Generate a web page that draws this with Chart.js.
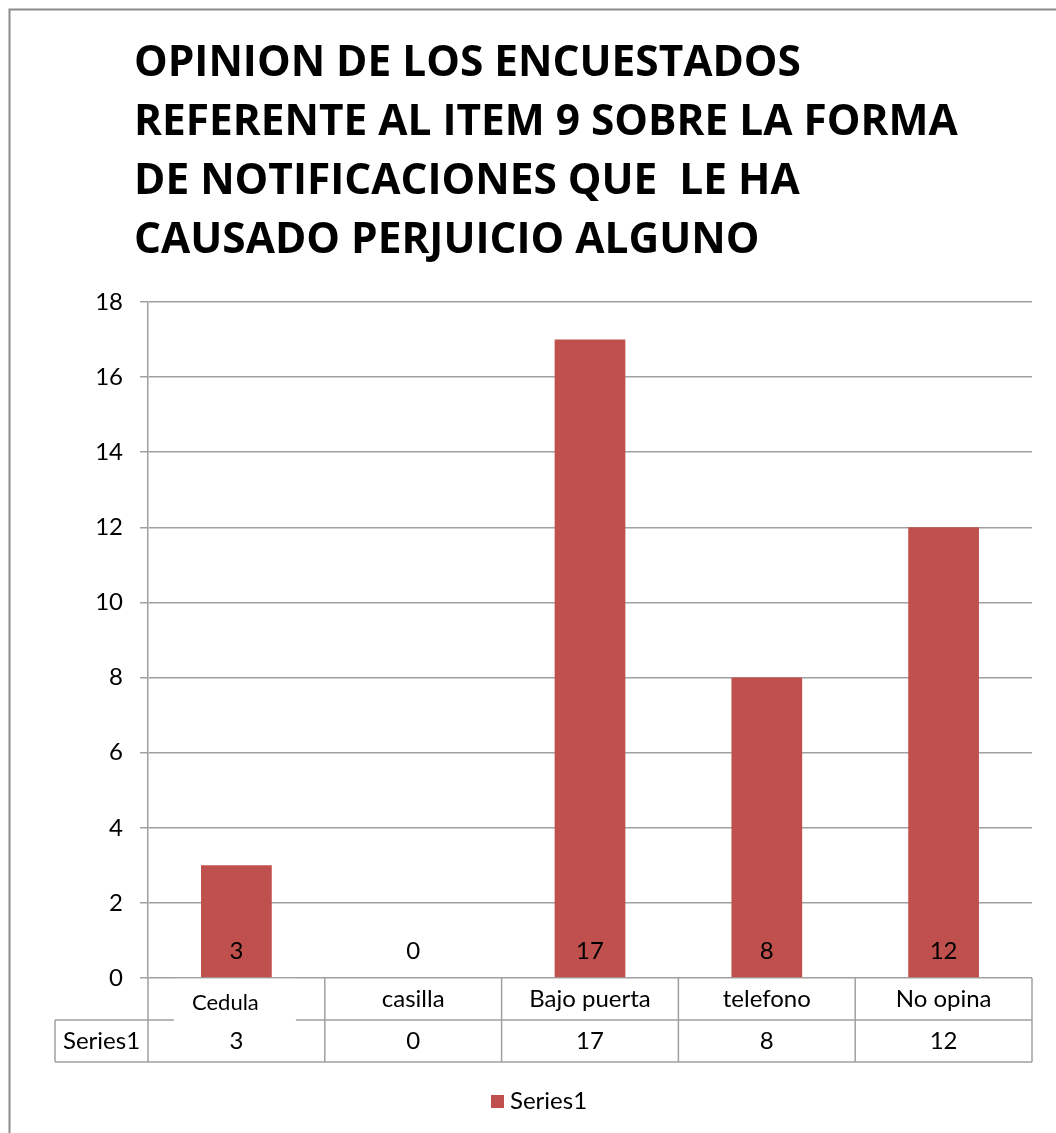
<!DOCTYPE html>
<html>
<head>
<meta charset="utf-8">
<script src="https://cdn.jsdelivr.net/npm/chart.js@4"></script>
<style>
  body { margin: 0; background: #fff; }
  canvas { display: block; }
</style>
</head>
<body>
<canvas id="surveyChart" width="1056" height="1133"></canvas>
<script>
// data
var titleLines = [
  "OPINION DE LOS ENCUESTADOS",
  "REFERENTE AL ITEM 9 SOBRE LA FORMA",
  "DE NOTIFICACIONES QUE  LE HA",
  "CAUSADO PERJUICIO ALGUNO"
];
var categories = ["Cedula", "casilla", "Bajo puerta", "telefono", "No opina"];
var seriesName = "Series1";
var seriesValues = [3, 0, 17, 8, 12];
var yTicks = [0, 2, 4, 6, 8, 10, 12, 14, 16, 18];

var barColor = "#C0504D";
var lineColor = "#A0A0A0";
var fontName = "Lato";
var titleFont = "'Open Sans'";

// draws title, value labels, the data table and the legend around the plot
var excelExtras = {
  id: "excelExtras",
  afterDraw: function(chart) {
    var ctx = chart.ctx;
    var area = chart.chartArea;
    var xs = chart.scales.x;
    var ys = chart.scales.y;
    var base = ys.getPixelForValue(0);
    ctx.save();

    // outer border (only top/left visible in the picture)
    ctx.strokeStyle = "#8c8c8c";
    ctx.lineWidth = 2;
    ctx.beginPath();
    ctx.moveTo(9.5, 1133);
    ctx.lineTo(9.5, 9.5);
    ctx.lineTo(1056, 9.5);
    ctx.stroke();

    // title, sized so the longest line spans like the original
    ctx.fillStyle = "#000";
    ctx.font = "bold 40px " + titleFont;
    var w = ctx.measureText(titleLines[1]).width;
    var size = Math.round(40 * 823 / w * 10) / 10;
    ctx.font = "bold " + size + "px " + titleFont;
    ctx.textAlign = "left";
    ctx.textBaseline = "alphabetic";
    for (var i = 0; i < titleLines.length; i++) {
      ctx.fillText(titleLines[i], 134, 76 + i * 59);
    }

    // value labels inside bars
    ctx.font = "24px " + fontName;
    ctx.textAlign = "center";
    ctx.textBaseline = "middle";
    var meta = chart.getDatasetMeta(0);
    meta.data.forEach(function(bar, i) {
      ctx.fillText(String(seriesValues[i]), bar.x, base - 27);
    });

    // data table
    var rowH = 42;
    var left = area.left, right = area.right;
    var headerLeft = 55;
    var half = (xs.getPixelForValue(1) - xs.getPixelForValue(0)) / 2;
    ctx.strokeStyle = lineColor;
    ctx.lineWidth = 1.5;
    ctx.beginPath();
    ctx.moveTo(headerLeft, base + rowH); ctx.lineTo(right, base + rowH);
    ctx.moveTo(headerLeft, base + 2 * rowH); ctx.lineTo(right, base + 2 * rowH);
    ctx.moveTo(headerLeft, base + rowH); ctx.lineTo(headerLeft, base + 2 * rowH);
    ctx.moveTo(left, base); ctx.lineTo(left, base + 2 * rowH);
    categories.forEach(function(c, i) {
      var edge = xs.getPixelForValue(i) + half;
      ctx.moveTo(edge, base); ctx.lineTo(edge, base + 2 * rowH);
    });
    ctx.stroke();

    ctx.fillStyle = "#000";
    ctx.font = "24px " + fontName;
    categories.forEach(function(c, i) {
      var cx = xs.getPixelForValue(i);
      if (i === 0) {
        // the picture has a white box pasted over the first category cell
        ctx.fillStyle = "#fff";
        ctx.fillRect(cx - 62.5, base + 0.8, 122, rowH + 1.5);
        ctx.fillStyle = "#000";
        ctx.font = "22px " + fontName;
        ctx.fillText(c, cx - 11, base + 25);
        ctx.font = "24px " + fontName;
      } else {
        ctx.fillText(c, cx, base + 21);
      }
      ctx.fillText(String(seriesValues[i]), cx, base + rowH + 21);
    });
    ctx.fillText(seriesName, (headerLeft + left) / 2, base + rowH + 21);

    // legend
    ctx.fillStyle = barColor;
    ctx.fillRect(491, 1095, 13, 13);
    ctx.fillStyle = "#000";
    ctx.textAlign = "left";
    ctx.fillText(seriesName, 510, 1101);

    ctx.restore();
  }
};

var ctx = document.getElementById("surveyChart").getContext("2d");
var chart = new Chart(ctx, {
  type: "bar",
  data: {
    labels: categories,
    datasets: [{
      label: seriesName,
      data: seriesValues,
      backgroundColor: barColor,
      barPercentage: 0.4,
      categoryPercentage: 1.0
    }]
  },
  options: {
    responsive: false,
    animation: false,
    layout: { padding: { top: 302, bottom: 155, right: 24, left: 0 } },
    plugins: {
      legend: { display: false },
      title: { display: false },
      tooltip: { enabled: false }
    },
    scales: {
      x: { display: false },
      y: {
        min: 0,
        max: 18,
        afterBuildTicks: function(axis) {
          axis.ticks = yTicks.map(function(v) { return { value: v }; });
        },
        afterFit: function(axis) { axis.width = 148; },
        ticks: {
          padding: 17,
          color: "#000",
          font: { family: fontName, size: 24 }
        },
        grid: { color: lineColor, lineWidth: 1.5, tickLength: 8 },
        border: { display: true, color: lineColor, width: 1.5 }
      }
    }
  },
  plugins: [excelExtras]
});
</script>
</body>
</html>
